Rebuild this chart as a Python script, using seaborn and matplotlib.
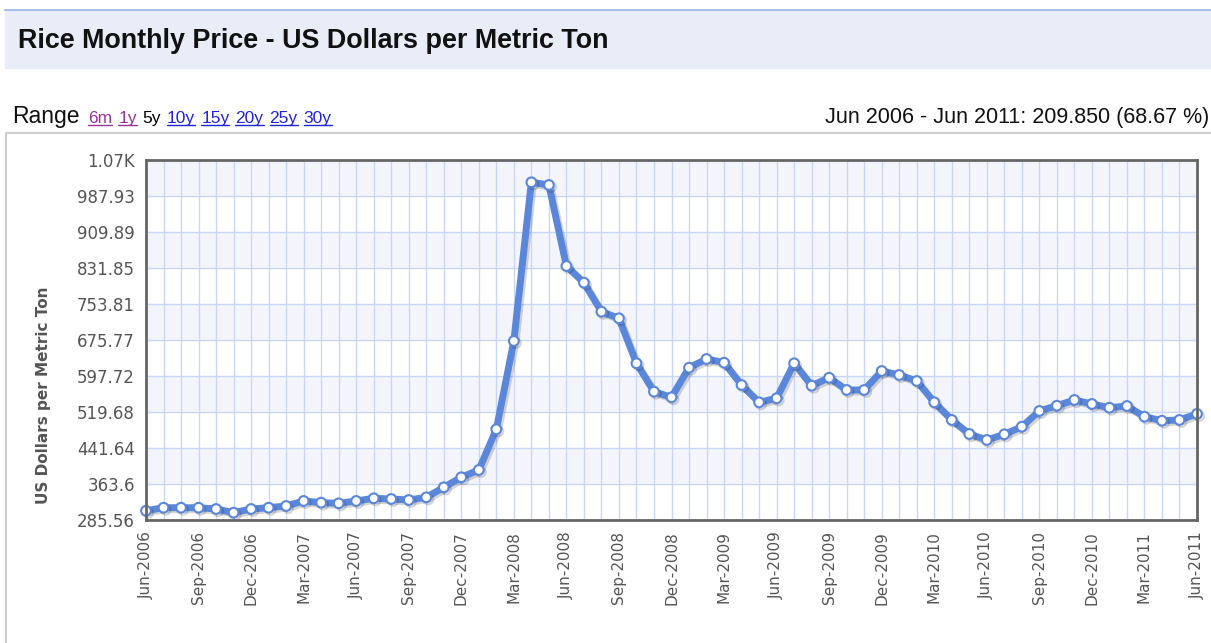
import numpy as np
import pandas as pd
import matplotlib
matplotlib.use("Agg")
import matplotlib.pyplot as plt
import matplotlib.patheffects as pe
from matplotlib.lines import Line2D
from matplotlib.patches import Rectangle
from matplotlib.transforms import IdentityTransform
import seaborn as sns

# --- data ---
months = pd.date_range("2006-06-01", "2011-06-01", freq="MS")
prices = [
    305.6, 312.2, 312.2, 312.2, 309.4, 301.4, 309.4, 312.2, 315.9, 326.8,
    323.1, 321.7, 326.8, 332.6, 331.1, 328.9, 334.7, 356.4, 378.1, 394.0,
    482.2, 673.6, 1017.6, 1011.8, 836.2, 800.0, 737.1, 722.8, 625.3, 563.7,
    551.5, 615.7, 634.6, 626.6, 578.2, 540.7, 549.4, 625.3, 576.7, 594.0,
    567.4, 567.4, 608.6, 599.9, 586.9, 540.7, 502.4, 472.0, 459.0, 471.3,
    487.8, 521.9, 533.3, 545.7, 537.0, 529.0, 532.7, 509.5, 500.8, 502.4,
    515.5,
]
ytick_values = [285.56, 363.6, 441.64, 519.68, 597.72, 675.77, 753.81,
                831.85, 909.89, 987.93, 1065.97]
ytick_labels = ["285.56", "363.6", "441.64", "519.68", "597.72", "675.77",
                "753.81", "831.85", "909.89", "987.93", "1.07K"]
range_links = ["6m", "1y", "5y", "10y", "15y", "20y", "25y", "30y"]
link_colors = ["#993399", "#993399", "#000000", "#2222DD", "#2222DD",
               "#2222DD", "#2222DD", "#2222DD"]
title = "Rice Monthly Price - US Dollars per Metric Ton"
summary = "Jun 2006 - Jun 2011: 209.850 (68.67 %)"
ylabel = "US Dollars per Metric Ton"

LINE = "#5B87DA"
GRID = "#C8D7F5"
BAND = "#F3F5FB"
TEXT = "#555555"

sns.set_theme(style="white")
plt.rcParams["font.family"] = ["DejaVu Sans"]

W, H = 1211, 643
fig = plt.figure(figsize=(W / 100, H / 100), dpi=100)
fig.patch.set_facecolor("white")

# header band
fig.patches.append(Rectangle((5 / W, 1 - 68 / H), (W - 5) / W, 58 / H,
                             transform=fig.transFigure, color="#E8EDF8", zorder=0))
fig.lines.append(Line2D([5 / W, 1], [1 - 10 / H] * 2, transform=fig.transFigure,
                        color="#A9BFEA", lw=1.5))
fig.text(18 / W, 1 - 41 / H, title, va="center", fontsize=19.4, fontweight="bold",
         family="Liberation Sans", color="#111111")

# outer chart box
fig.lines.append(Line2D([6 / W, 1], [1 - 133 / H] * 2, transform=fig.transFigure,
                        color="#CCCCCC", lw=1.5))
fig.lines.append(Line2D([6 / W, 6 / W], [0, 1 - 133 / H], transform=fig.transFigure,
                        color="#CCCCCC", lw=1.5))

# range row
base_y = 1 - 123 / H
fig.text(12 / W, base_y, "Range", va="baseline", fontsize=16.5,
         family="Liberation Sans", color="#111111")
fig.text(1209 / W, base_y, summary, ha="right", va="baseline", fontsize=15.5,
         family="Liberation Sans", color="#111111")

renderer = fig.canvas.get_renderer()
x_px = 88
for label, col in zip(range_links, link_colors):
    t = fig.text(x_px / W, base_y, label, va="baseline", fontsize=12.5,
                 family="Liberation Sans", color=col)
    bb = t.get_window_extent(renderer)
    if label != "5y":
        uy = H - 125
        fig.lines.append(Line2D([bb.x0, bb.x1], [uy, uy], transform=IdentityTransform(),
                                color=col, lw=1))
    x_px = bb.x1 + 6

# plot area
ax = fig.add_axes([146 / W, 1 - 520 / H, 1051 / W, 360 / H])
ax.set_facecolor("white")

for i in range(len(ytick_values) - 1):
    if i % 2 == 1:
        ax.axhspan(ytick_values[i], ytick_values[i + 1], color=BAND, zorder=0, lw=0)

df = pd.DataFrame({"month": np.arange(len(prices)), "price": prices})
sns.lineplot(data=df, x="month", y="price", ax=ax, color=LINE, linewidth=5,
             marker="o", markersize=7, markerfacecolor="white",
             markeredgecolor=LINE, markeredgewidth=1.5, zorder=5)
line = ax.lines[-1]
line.set_clip_on(False)
line.set_path_effects([pe.SimpleLineShadow(offset=(1.5, -1.5), alpha=0.18),
                       pe.Normal()])

ax.set_xlim(0, len(prices) - 1)
ax.set_ylim(ytick_values[0], ytick_values[-1])

ax.set_yticks(ytick_values)
ax.set_yticklabels(ytick_labels)
major_x = np.arange(0, len(prices), 3)
ax.set_xticks(major_x)
ax.set_xticklabels([m.strftime("%b-%Y") for m in months[::3]], rotation=90)
ax.set_xticks(np.arange(len(prices)), minor=True)

ax.grid(True, which="both", axis="x", color=GRID, lw=1, zorder=1)
ax.grid(True, which="major", axis="y", color=GRID, lw=1, zorder=1)
ax.set_axisbelow(True)

ax.tick_params(axis="both", which="both", length=0)
ax.tick_params(axis="y", labelsize=12, labelcolor=TEXT, pad=8)
ax.tick_params(axis="x", labelsize=11, labelcolor=TEXT, pad=8)

for s in ax.spines.values():
    s.set_visible(True)
    s.set_color("#666666")
    s.set_linewidth(2)
    s.set_zorder(6)

ax.set_xlabel("")
ax.set_ylabel(ylabel, fontsize=11, fontweight="bold", color=TEXT)
ax.yaxis.set_label_coords(-0.090, 0.347)

fig.savefig("out.png", dpi=100)
